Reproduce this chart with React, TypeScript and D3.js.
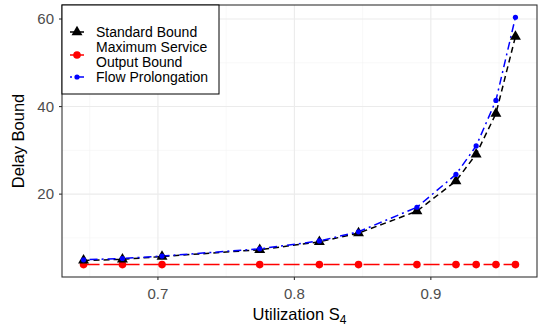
import * as d3 from 'd3';

const utilization = [0.6455, 0.674, 0.703, 0.7746, 0.8183, 0.847, 0.8898, 0.9184, 0.9332, 0.9477, 0.962];
const standardBound = [4.85, 5.1, 5.75, 7.3, 9.1, 11.1, 16.1, 23.0, 29.1, 38.4, 56.0];
const maxServiceBound = [3.9, 3.9, 3.9, 3.9, 3.9, 3.9, 3.9, 3.9, 3.9, 3.9, 3.9];
const flowProlongation = [5.0, 5.3, 5.85, 7.5, 9.3, 11.4, 17.0, 24.5, 31.0, 41.4, 60.4];
const xTicks = [0.7, 0.8, 0.9];
const yTicks = [20, 40, 60];

const W = 543;
const H = 327;
const M = { left: 62, right: 6, top: 5, bottom: 50 };
const FONT = 'Liberation Sans, Arial, sans-serif';

export default function App() {
  const x = d3.scaleLinear().domain([0.6297, 0.9778]).range([M.left, W - M.right]);
  const y = d3.scaleLinear().domain([1.07, 63.2]).range([H - M.bottom, M.top]);
  const line = (vals: number[]) =>
    d3.line<number>().x((_, i) => x(utilization[i])).y((d) => y(d))(vals) as string;
  const tri = d3.symbol().type(d3.symbolTriangle).size(52)() as string;

  const xMinor = [0.65, 0.75, 0.85, 0.95];
  const yMinor = [10, 30, 50];
  const x0 = M.left, x1 = W - M.right, y0 = M.top, y1 = H - M.bottom;

  return (
    <svg width={W} height={H} style={{ position: 'absolute', left: 0, top: 0, fontFamily: FONT }}>
      <rect width={W} height={H} fill="white" />
      {xMinor.map((t) => <line key={'xm' + t} x1={x(t)} x2={x(t)} y1={y0} y2={y1} stroke="#f3f3f3" strokeWidth={0.6} />)}
      {yMinor.map((t) => <line key={'ym' + t} y1={y(t)} y2={y(t)} x1={x0} x2={x1} stroke="#f3f3f3" strokeWidth={0.6} />)}
      {xTicks.map((t) => <line key={'xM' + t} x1={x(t)} x2={x(t)} y1={y0} y2={y1} stroke="#ebebeb" strokeWidth={1.1} />)}
      {yTicks.map((t) => <line key={'yM' + t} y1={y(t)} y2={y(t)} x1={x0} x2={x1} stroke="#ebebeb" strokeWidth={1.1} />)}

      <path d={line(maxServiceBound)} fill="none" stroke="#ff0000" strokeWidth={1.5} strokeDasharray="16 4" />
      <path d={line(standardBound)} fill="none" stroke="#000" strokeWidth={1.5} strokeDasharray="6 4" />
      <path d={line(flowProlongation)} fill="none" stroke="#0000ff" strokeWidth={1.5} strokeDasharray="2 4 8 4" />
      {maxServiceBound.map((v, i) => <circle key={'r' + i} cx={x(utilization[i])} cy={y(v)} r={3.8} fill="#ff0000" />)}
      {standardBound.map((v, i) => <path key={'b' + i} d={tri} transform={`translate(${x(utilization[i])},${y(v)})`} fill="#000" />)}
      {flowProlongation.map((v, i) => <circle key={'u' + i} cx={x(utilization[i])} cy={y(v)} r={2.6} fill="#0000ff" />)}

      <rect x={x0} y={y0} width={x1 - x0} height={y1 - y0} fill="none" stroke="#333" strokeWidth={1.1} />

      {xTicks.map((t) => (
        <g key={'xt' + t}>
          <line x1={x(t)} x2={x(t)} y1={y1} y2={y1 + 3} stroke="#333" strokeWidth={1.1} />
          <text x={x(t)} y={299} textAnchor="middle" fontSize={15} fill="#4d4d4d">{t.toFixed(1)}</text>
        </g>
      ))}
      {yTicks.map((t) => (
        <g key={'yt' + t}>
          <line x1={x0 - 3} x2={x0} y1={y(t)} y2={y(t)} stroke="#333" strokeWidth={1.1} />
          <text x={x0 - 8} y={y(t) + 5.3} textAnchor="end" fontSize={15} fill="#4d4d4d">{t}</text>
        </g>
      ))}
      <text x={(x0 + x1) / 2} y={320} textAnchor="middle" fontSize={16.5} fill="#000">
        Utilization S<tspan fontSize={12} dy={4}>4</tspan>
      </text>
      <text transform={`translate(24,${(y0 + y1) / 2}) rotate(-90)`} textAnchor="middle" fontSize={16.5} fill="#000">Delay Bound</text>

      <g>
        <rect x={x0} y={y0} width={157} height={89} fill="white" stroke="#000" strokeWidth={1} />
        <g transform="translate(77,0)">
          <line x1={-7} x2={7} y1={32} y2={32} stroke="#000" strokeWidth={1.5} strokeDasharray="6 4" />
          <path d={tri} transform="translate(0,32)" fill="#000" />
          <line x1={-7} x2={7} y1={55} y2={55} stroke="#ff0000" strokeWidth={1.5} />
          <circle cx={0} cy={55} r={3.8} fill="#ff0000" />
          <line x1={-7} x2={7} y1={77} y2={77} stroke="#0000ff" strokeWidth={1.5} strokeDasharray="2 4 8 4" />
          <circle cx={0} cy={77} r={2.6} fill="#0000ff" />
        </g>
        <text x={96} y={36.5} fontSize={14} fill="#000">Standard Bound</text>
        <text x={96} y={51.5} fontSize={14} fill="#000">Maximum Service</text>
        <text x={96} y={66.5} fontSize={14} fill="#000">Output Bound</text>
        <text x={96} y={81.5} fontSize={14} fill="#000">Flow Prolongation</text>
      </g>
    </svg>
  );
}
